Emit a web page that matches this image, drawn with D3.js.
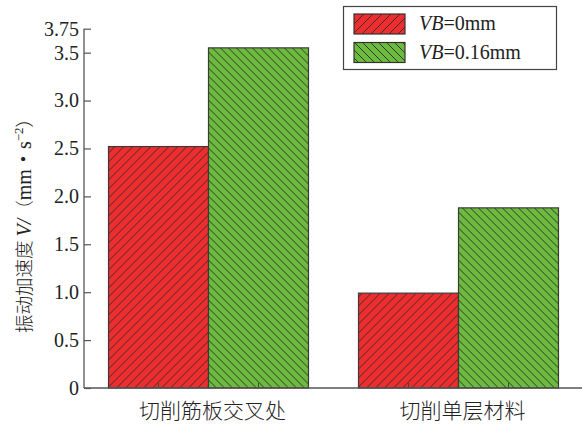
<!DOCTYPE html>
<html>
<head>
<meta charset="utf-8">
<script src="https://cdn.jsdelivr.net/npm/d3@7"></script>
<style>
  html, body { margin: 0; padding: 0; background: #fff; }
  svg { display: block; }
  text { font-family: "Liberation Serif", "DejaVu Serif", serif; fill: #222; }
  .cjk { font-family: "Noto Sans CJK SC", sans-serif; }
</style>
</head>
<body>
<svg id="chart" width="582" height="424"></svg>
<script>
// Vibration acceleration by cutting position and tool wear VB
const categories = ["切削筋板交叉处", "切削单层材料"];
const seriesNames = ["0mm", "0.16mm"];
const seriesVB0 = [2.52, 0.99];
const seriesVB016 = [3.55, 1.88];
const yTicks = [0, 0.5, 1.0, 1.5, 2.0, 2.5, 3.0, 3.5, 3.75];
const yTickLabels = ["0", "0.5", "1.0", "1.5", "2.0", "2.5", "3.0", "3.5", "3.75"];

const fills = ["#ee2e2e", "#6cbb3f"];
const patternIds = ["hatchRed", "hatchGreen"];

const svg = d3.select("#chart");
const W = 582, H = 424;
const axisX = 84;

const y = d3.scaleLinear().domain([0, 3.75]).range([388, 28.7]);
const x0 = d3.scaleBand().domain(categories).range([108.5, 558.5]).paddingInner(0.2).paddingOuter(0);
const x1 = d3.scaleBand().domain(seriesNames).range([0, x0.bandwidth()]);

// Hatch patterns
const defs = svg.append("defs");
function hatch(id, color, dir, step) {
  const p = defs.append("pattern")
    .attr("id", id)
    .attr("patternUnits", "userSpaceOnUse")
    .attr("width", step).attr("height", step);
  p.append("rect").attr("width", step).attr("height", step).attr("fill", color);
  const d = dir > 0
    ? `M0,${step} L${step},0 M${-step/2},${step/2} L${step/2},${-step/2} M${step/2},${step*1.5} L${step*1.5},${step/2}`
    : `M0,0 L${step},${step} M${-step/2},${step/2} L${step/2},${step*1.5} M${step/2},${-step/2} L${step*1.5},${step/2}`;
  p.append("path").attr("d", d).attr("stroke", "#2b2b2b").attr("stroke-width", 0.9).attr("fill", "none");
}
hatch(patternIds[0], fills[0], 1, 9);
hatch(patternIds[1], fills[1], -1, 8);

const data = categories.map((c, i) => ({ cat: c, vals: [seriesVB0[i], seriesVB016[i]] }));

// Bars
const groups = svg.append("g").selectAll("g").data(data).join("g")
  .attr("transform", d => `translate(${x0(d.cat)},0)`);
groups.selectAll("rect").data(d => d.vals.map((v, k) => ({ v, k })))
  .join("rect")
  .attr("x", d => x1(seriesNames[d.k]))
  .attr("y", d => y(d.v))
  .attr("width", x1.bandwidth())
  .attr("height", d => y(0) - y(d.v))
  .attr("fill", d => `url(#${patternIds[d.k]})`)
  .attr("stroke", "#3a3a3a")
  .attr("stroke-width", 1.2);

// Small ticks on the baseline at bar centres
groups.selectAll("line.ct").data(d => d.vals.map((v, k) => k))
  .join("line")
  .attr("class", "ct")
  .attr("x1", k => x1(seriesNames[k]) + x1.bandwidth() / 2)
  .attr("x2", k => x1(seriesNames[k]) + x1.bandwidth() / 2)
  .attr("y1", y(0)).attr("y2", y(0) - 5)
  .attr("stroke", "#444").attr("stroke-width", 1);

// Y axis
const yAxis = d3.axisLeft(y).tickValues(yTicks)
  .tickFormat((d, i) => yTickLabels[i])
  .tickSize(-7).tickPadding(5);
const yg = svg.append("g").attr("transform", `translate(${axisX},0)`).call(yAxis);
yg.select(".domain").attr("stroke", "#555").attr("stroke-width", 1.3).attr("d", `M0,${y(3.75)}V${y(0)}`);
yg.selectAll(".tick line").attr("stroke", "#555").attr("stroke-width", 1.2);
yg.selectAll(".tick text").attr("font-size", 20).attr("fill", "#222");

// X axis baseline
svg.append("line")
  .attr("x1", axisX).attr("x2", W)
  .attr("y1", y(0)).attr("y2", y(0))
  .attr("stroke", "#555").attr("stroke-width", 1.3);

// Category labels
svg.append("g").selectAll("text").data(categories).join("text")
  .attr("class", "cjk")
  .attr("x", d => x0(d) + x0.bandwidth() / 2 + 4)
  .attr("y", 418)
  .attr("text-anchor", "middle")
  .attr("font-size", 21)
  .attr("font-weight", 300)
  .attr("fill", "#333")
  .text(d => d);

// Y axis title
const yt = svg.append("text")
  .attr("transform", `translate(31,221) rotate(-90)`)
  .attr("text-anchor", "middle")
  .attr("font-size", 20)
  .attr("fill", "#333");
yt.append("tspan").attr("class", "cjk").attr("font-size", 18.5).attr("font-weight", 300).text("振动加速度 ");
yt.append("tspan").attr("font-style", "italic").text("V");
yt.append("tspan").attr("font-style", "italic").text("/");
yt.append("tspan").attr("class", "cjk").attr("font-size", 18.5).attr("font-weight", 300).text("（");
yt.append("tspan").text("mm");
yt.append("tspan").attr("class", "cjk").text("·");
yt.append("tspan").text("s");
yt.append("tspan").attr("font-size", 13).attr("dy", -8).text("−2");
yt.append("tspan").attr("class", "cjk").attr("font-size", 18.5).attr("font-weight", 300).attr("dy", 8).text("）");

// Legend
const lg = svg.append("g");
lg.append("rect").attr("x", 343.5).attr("y", 6.5).attr("width", 213).attr("height", 63)
  .attr("fill", "#fff").attr("stroke", "#444").attr("stroke-width", 1.2);
seriesNames.forEach((s, k) => {
  const yy = 14 + k * 28.5;
  lg.append("rect").attr("x", 354).attr("y", yy).attr("width", 51).attr("height", 20)
    .attr("fill", `url(#${patternIds[k]})`).attr("stroke", "#333").attr("stroke-width", 1.2);
  const t = lg.append("text").attr("x", 419).attr("y", yy + 16).attr("font-size", 20).attr("fill", "#333");
  t.append("tspan").attr("font-style", "italic").text("VB");
  t.append("tspan").text("=" + s);
});
</script>
</body>
</html>
